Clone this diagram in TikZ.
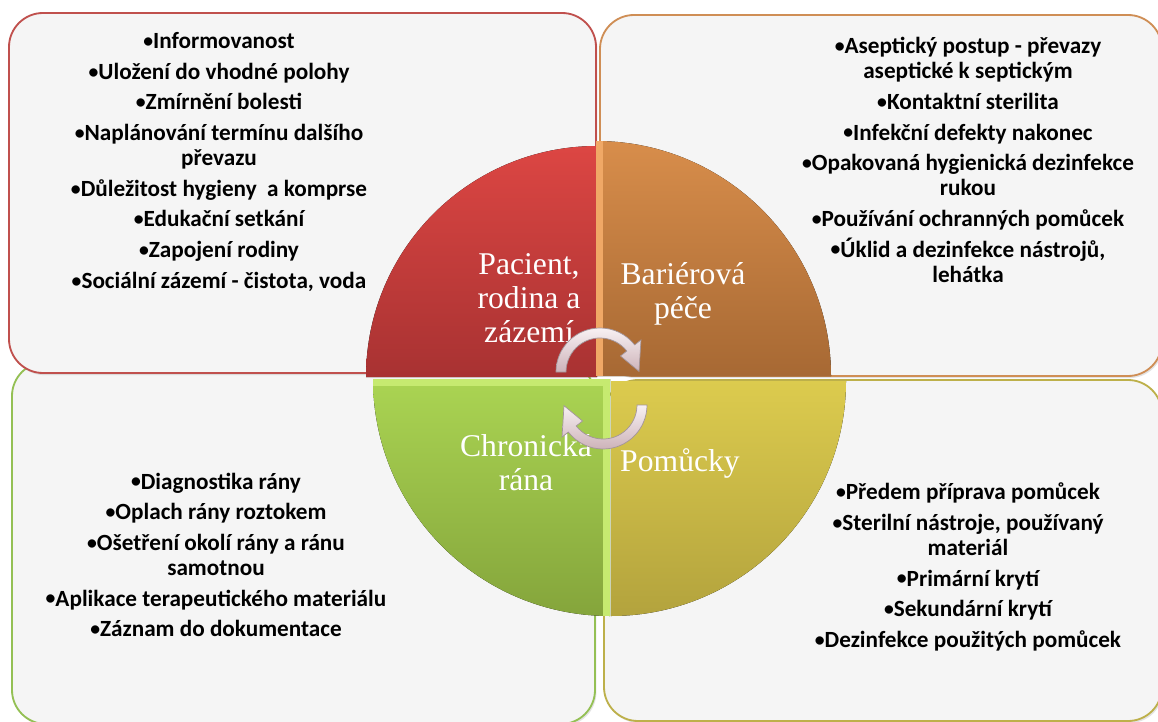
\documentclass[tikz,border=0pt]{standalone}
\usepackage{fontspec}
\newfontfamily\calfont{Carlito}
\newfontfamily\serffont{Liberation Serif}
\usetikzlibrary{shadows,calc}

\definecolor{boxfill}{HTML}{F5F5F5}
\definecolor{redline}{HTML}{C0504D}
\definecolor{orangeline}{HTML}{CF8E55}
\definecolor{greenline}{HTML}{94C054}
\definecolor{oliveline}{HTML}{BDB04A}
\definecolor{redtop}{HTML}{DC4643}
\definecolor{redbot}{HTML}{A83232}
\definecolor{orangetop}{HTML}{DA8F4C}
\definecolor{orangebot}{HTML}{A66833}
\definecolor{orangebevel}{HTML}{F0A866}
\definecolor{greentop}{HTML}{ABD553}
\definecolor{greenbot}{HTML}{84A43B}
\definecolor{greenbevel}{HTML}{C6EA70}
\definecolor{yellowtop}{HTML}{DCCB4E}
\definecolor{yellowbot}{HTML}{B3A33D}
\definecolor{arrowlight}{HTML}{F8F1F3}
\definecolor{arrowdark}{HTML}{CDB3B9}
\definecolor{arrowline}{HTML}{A3959A}

% bullet in front of every list entry
\newcommand\itembul{\raisebox{0.9pt}{\fontsize{14}{14}\selectfont•}}

\tikzset{
  infobox/.style={line width=1.3pt, fill=boxfill, rounded corners=0.85cm,
    drop shadow={shadow xshift=1pt, shadow yshift=-1.5pt, opacity=0.22}},
  itemtext/.style={align=center, inner sep=0pt,
    font=\calfont\bfseries\fontsize{16.5}{17.8}\selectfont},
  quadtext/.style={align=center, inner sep=0pt, text=white,
    font=\serffont\fontsize{22.5}{24}\selectfont},
  cyclearrow/.style={draw=arrowline, line width=0.5pt,
    top color=arrowlight, bottom color=arrowdark},
}

\begin{document}
\begin{tikzpicture}[x=0.025cm, y=-0.025cm]
\useasboundingbox (0,0) rectangle (1158,722);
\fill[white] (0,0) rectangle (1158,722);

% the four text panels
\path[infobox, draw=greenline]  (12,362) rectangle (595,724);
\path[infobox, draw=oliveline]  (604,380) rectangle (1162,721);
\path[infobox, draw=redline]    (9,13) rectangle (596,373);
\path[infobox, draw=orangeline] (600,15) rectangle (1162,376);

% quarter discs
\fill[top color=redtop, bottom color=redbot]
  (597,377) -- ++(180:231) arc[start angle=180, end angle=270, radius=231] -- cycle;

\begin{scope}
  \clip (596,376) -- ++(270:235) arc[start angle=270, end angle=360, radius=235] -- cycle;
  \fill[top color=orangetop, bottom color=orangebot] (590,130) rectangle (840,380);
  \draw[orangebevel, line width=10pt] (596,376) -- (596,130);
\end{scope}

\begin{scope}
  \clip (610,379) -- ++(90:237) arc[start angle=90, end angle=180, radius=237] -- cycle;
  \fill[top color=greentop, bottom color=greenbot] (360,375) rectangle (615,620);
  \draw[greenbevel, line width=10pt] (365,379) -- (610,379) -- (610,620);
\end{scope}

\fill[top color=yellowtop, bottom color=yellowbot]
  (611,381) -- ++(0:235) arc[start angle=0, end angle=90, radius=235] -- cycle;

% panel texts
\node[itemtext] (tltext) at (219,162) {%
  \itembul Informovanost\\[4pt]
  \itembul Uložení do vhodné polohy\\[4pt]
  \itembul Zmírnění bolesti\\[4pt]
  \itembul Naplánování termínu dalšího\\
  převazu\\[4pt]
  \itembul Důležitost hygieny\ \ a komprse\\[4pt]
  \itembul Edukační setkání\\[4pt]
  \itembul Zapojení rodiny\\[4pt]
  \itembul Sociální zázemí - čistota, voda};

\node[itemtext] (trtext) at (968,160) {%
  \itembul Aseptický postup - převazy\\
  aseptické k septickým\\[4pt]
  \itembul Kontaktní sterilita\\[4pt]
  \itembul Infekční defekty nakonec\\[4pt]
  \itembul Opakovaná hygienická dezinfekce\\
  rukou\\[4pt]
  \itembul Používání ochranných pomůcek\\[4pt]
  \itembul Úklid a dezinfekce nástrojů,\\
  lehátka};

\node[itemtext] (bltext) at (216,555) {%
  \itembul Diagnostika rány\\[4pt]
  \itembul Oplach rány roztokem\\[4pt]
  \itembul Ošetření okolí rány a ránu\\
  samotnou\\[4pt]
  \itembul Aplikace terapeutického materiálu\\[4pt]
  \itembul Záznam do dokumentace};

\node[itemtext] (brtext) at (968,567) {%
  \itembul Předem příprava pomůcek\\[4pt]
  \itembul Sterilní nástroje, používaný\\
  materiál\\[4pt]
  \itembul Primární krytí\\[4pt]
  \itembul Sekundární krytí\\[4pt]
  \itembul Dezinfekce použitých pomůcek};

% quarter labels
\node[quadtext] (pacient) at (529,298) {Pacient,\\rodina a\\zázemí};
\node[quadtext] (bariera) at (683,294) {Bariérová\\péče};
\node[quadtext] (rana)    at (526,463) {Chronická\\rána};
\node[quadtext] (pomucky) at (680,463) {Pomůcky};

% cycle arrows in the middle
\coordinate (ta) at (600,372);
\coordinate (ba) at (603,405);
\path[cyclearrow]
  ($(ta)+(180:44)$) arc[start angle=180, end angle=322, radius=44]
  -- ($(ta)+(322:52)$) -- ($(ta)+(359:39)$) -- ($(ta)+(322:26)$)
  -- ($(ta)+(322:34)$) arc[start angle=322, end angle=180, radius=34] -- cycle;
\path[cyclearrow]
  ($(ba)+(0:44)$) arc[start angle=0, end angle=142, radius=44]
  -- ($(ba)+(142:52)$) -- ($(ba)+(179:39)$) -- ($(ba)+(142:26)$)
  -- ($(ba)+(142:34)$) arc[start angle=142, end angle=0, radius=34] -- cycle;
\end{tikzpicture}
\end{document}
